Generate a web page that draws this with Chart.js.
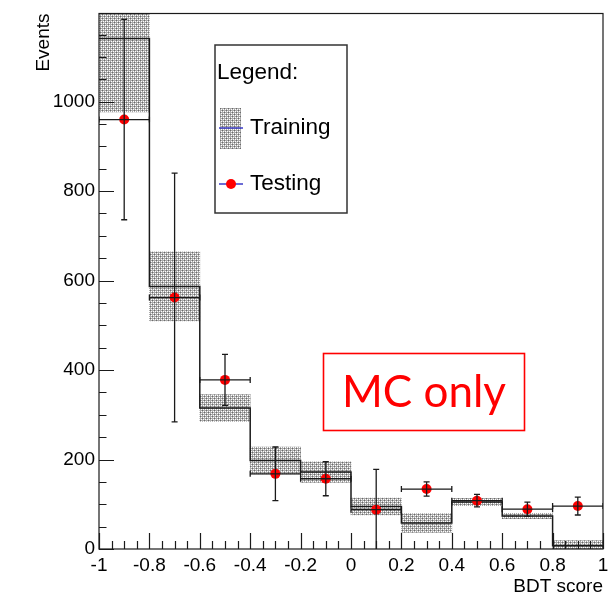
<!DOCTYPE html>
<html>
<head>
<meta charset="utf-8">
<title>BDT score</title>
<script src="https://cdn.jsdelivr.net/npm/chart.js@4.4.0/dist/chart.umd.min.js"></script>
<style>
  html, body { margin: 0; padding: 0; background: #fff; }
</style>
</head>
<body>
<canvas id="myChart" width="616" height="598"></canvas>
<script>
// bin edges of the BDT score histogram
const binLo = [-1, -0.8, -0.6, -0.4, -0.2, 0, 0.2, 0.4, 0.6, 0.8];
const binHi = [-0.8, -0.6, -0.4, -0.2, 0, 0.2, 0.4, 0.6, 0.8, 1];
// training sample: bin contents + errors (shaded band)
const trainVals = [1141, 587, 315, 198, 172, 95, 58, 105, 74, 7];
const trainErr = [164, 77, 30, 30, 23, 19, 21, 8, 6, 12];
// testing sample: points with error bars
const testVals = [960, 562, 378, 168, 157, 88, 134, 108, 89, 96];
const testErr = [224, 278, 57, 60, 38, 90, 16, 14, 16, 20];
// axis ticks
const xTicks = [-1, -0.8, -0.6, -0.4, -0.2, 0, 0.2, 0.4, 0.6, 0.8, 1];
const yTicks = [0, 200, 400, 600, 800, 1000];
const yMax = 1197;

const font = "'Liberation Sans', Arial, sans-serif";
const ink = "#1a1a1a";

// little dotted fill used for the training band
function makeStipple(ctx) {
    const c = document.createElement("canvas");
    c.width = 4;
    c.height = 4;
    const g = c.getContext("2d");
    g.fillStyle = "#a9a9a9";
    g.fillRect(0, 0, 4, 4);
    g.fillStyle = "#ffffff";
    [[1, 1], [3, 1], [1, 3], [3, 3]].forEach(p => g.fillRect(p[0], p[1], 1, 1));
    g.fillStyle = "#6a6a6a";
    [[0, 0], [2, 2]].forEach(p => g.fillRect(p[0], p[1], 1, 1));
    return ctx.createPattern(c, "repeat");
}

const canvas = document.getElementById("myChart");
const ctx = canvas.getContext("2d");
const stipple = makeStipple(ctx);

const centres = binLo.map((lo, i) => (lo + binHi[i]) / 2);

const bandData = centres.map((c, i) => ({ x: c, y: [trainVals[i] - trainErr[i], trainVals[i] + trainErr[i]] }));
const stepData = binLo.map((lo, i) => ({ x: lo, y: trainVals[i] }));
stepData.push({ x: binHi[binHi.length - 1], y: trainVals[trainVals.length - 1] });
const testData = centres.map((c, i) => ({ x: c, y: testVals[i] }));

// error bars of the testing points, drawn over the markers
const errorBars = {
    id: "errorBars",
    afterDatasetsDraw(chart) {
        const { ctx, chartArea, scales: { x, y } } = chart;
        ctx.save();
        ctx.beginPath();
        ctx.rect(chartArea.left, chartArea.top, chartArea.width, chartArea.height);
        ctx.clip();
        ctx.strokeStyle = ink;
        ctx.lineWidth = 1.3;
        testVals.forEach((v, i) => {
            const xl = x.getPixelForValue(binLo[i]);
            const xr = x.getPixelForValue(binHi[i]);
            const xc = x.getPixelForValue(centres[i]);
            const yc = y.getPixelForValue(v);
            const yt = y.getPixelForValue(v + testErr[i]);
            const yb = y.getPixelForValue(v - testErr[i]);
            ctx.beginPath();
            ctx.moveTo(xl, yc); ctx.lineTo(xr, yc);
            ctx.moveTo(xl, yc - 3); ctx.lineTo(xl, yc + 3);
            ctx.moveTo(xr, yc - 3); ctx.lineTo(xr, yc + 3);
            ctx.moveTo(xc, yt); ctx.lineTo(xc, yb);
            ctx.moveTo(xc - 3, yt); ctx.lineTo(xc + 3, yt);
            ctx.moveTo(xc - 3, yb); ctx.lineTo(xc + 3, yb);
            ctx.stroke();
        });
        ctx.restore();
    }
};

// frame, inward ticks, legend box and the MC label
const decorations = {
    id: "decorations",
    afterDraw(chart) {
        const { ctx, chartArea, scales: { x, y } } = chart;
        const a = chartArea;
        ctx.save();
        ctx.strokeStyle = ink;
        ctx.lineWidth = 1.2;
        ctx.strokeRect(a.left, a.top, a.width, a.height);

        ctx.beginPath();
        for (let v = 0; v <= yMax; v += 50) {
            const py = Math.round(y.getPixelForValue(v)) + 0.5;
            const len = yTicks.includes(v) ? 15 : 7.5;
            ctx.moveTo(a.left, py); ctx.lineTo(a.left + len, py);
        }
        for (let k = 0; k <= 40; k++) {
            const v = -1 + k * 0.05;
            const px = Math.round(x.getPixelForValue(v)) + 0.5;
            const len = k % 4 === 0 ? 16 : 8;
            ctx.moveTo(px, a.bottom); ctx.lineTo(px, a.bottom - len);
        }
        ctx.stroke();

        // legend
        const ds = chart.data.datasets;
        ctx.fillStyle = "#fff";
        ctx.fillRect(215, 45, 132, 168);
        ctx.strokeStyle = "#333";
        ctx.lineWidth = 1.5;
        ctx.strokeRect(215, 45, 132, 168);
        ctx.fillStyle = "#000";
        ctx.font = `22.5px ${font}`;
        ctx.textBaseline = "middle";
        ctx.textAlign = "left";
        ctx.fillText("Legend:", 217, 73);
        ctx.fillText(ds[0].label, 250, 128);
        ctx.fillText(ds[2].label, 250, 184);

        ctx.fillStyle = stipple;
        ctx.fillRect(220, 108, 21, 41);
        ctx.strokeStyle = "#3c3cc8";
        ctx.lineWidth = 1.5;
        ctx.beginPath();
        ctx.moveTo(219, 128); ctx.lineTo(243, 128);
        ctx.moveTo(219, 184); ctx.lineTo(243, 184);
        ctx.stroke();
        ctx.fillStyle = "#ff0000";
        ctx.beginPath();
        ctx.arc(231, 184, 5, 0, Math.PI * 2);
        ctx.fill();

        // MC only
        ctx.strokeStyle = "#ff0000";
        ctx.lineWidth = 1.6;
        ctx.strokeRect(323.5, 353.5, 201, 77);
        ctx.fillStyle = "#ff0000";
        ctx.font = `44px Lato, 'Open Sans', sans-serif`;
        ctx.textAlign = "center";
        ctx.textBaseline = "alphabetic";
        ctx.fillText("MC only", 424, 407);
        ctx.restore();
    }
};

let myChart = new Chart(ctx, {
    type: "bar",
    data: {
        datasets: [{
            type: "bar",
            label: "Training",
            data: bandData,
            backgroundColor: stipple,
            borderWidth: 0,
            barPercentage: 1,
            categoryPercentage: 1,
            grouped: false,
            order: 3
        }, {
            type: "line",
            label: "Training histogram",
            data: stepData,
            stepped: true,
            borderColor: ink,
            borderWidth: 1.5,
            pointRadius: 0,
            fill: false,
            order: 2
        }, {
            type: "scatter",
            label: "Testing",
            data: testData,
            backgroundColor: "#ff0000",
            borderWidth: 0,
            pointRadius: 5,
            order: 1
        }]
    },
    options: {
        responsive: false,
        animation: false,
        layout: { padding: { top: 11, right: 13, left: 0, bottom: 0 } },
        plugins: {
            legend: { display: false },
            tooltip: { enabled: false }
        },
        scales: {
            x: {
                type: "linear",
                min: -1,
                max: 1,
                offset: false,
                grid: { display: false, drawTicks: false },
                border: { display: false },
                afterBuildTicks: scale => { scale.ticks = xTicks.map(v => ({ value: v })); },
                afterFit: scale => { scale.height = 49; },
                ticks: {
                    color: "#000",
                    padding: 5,
                    maxRotation: 0,
                    font: { family: font, size: 19 },
                    callback: v => String(v)
                },
                title: {
                    display: true,
                    text: "BDT score",
                    align: "end",
                    color: "#000",
                    padding: 0,
                    font: { family: font, size: 19 }
                }
            },
            y: {
                min: 0,
                max: yMax,
                grid: { display: false, drawTicks: false },
                border: { display: false },
                afterBuildTicks: scale => { scale.ticks = yTicks.map(v => ({ value: v })); },
                afterFit: scale => { scale.width = 99; },
                ticks: {
                    color: "#000",
                    padding: 4,
                    font: { family: font, size: 19, lineHeight: 1 },
                    callback: v => String(v)
                },
                title: {
                    display: true,
                    text: "Events",
                    align: "end",
                    color: "#000",
                    padding: { top: 32, bottom: 0 },
                    font: { family: font, size: 19 }
                }
            }
        }
    },
    plugins: [errorBars, decorations]
});
</script>
</body>
</html>
